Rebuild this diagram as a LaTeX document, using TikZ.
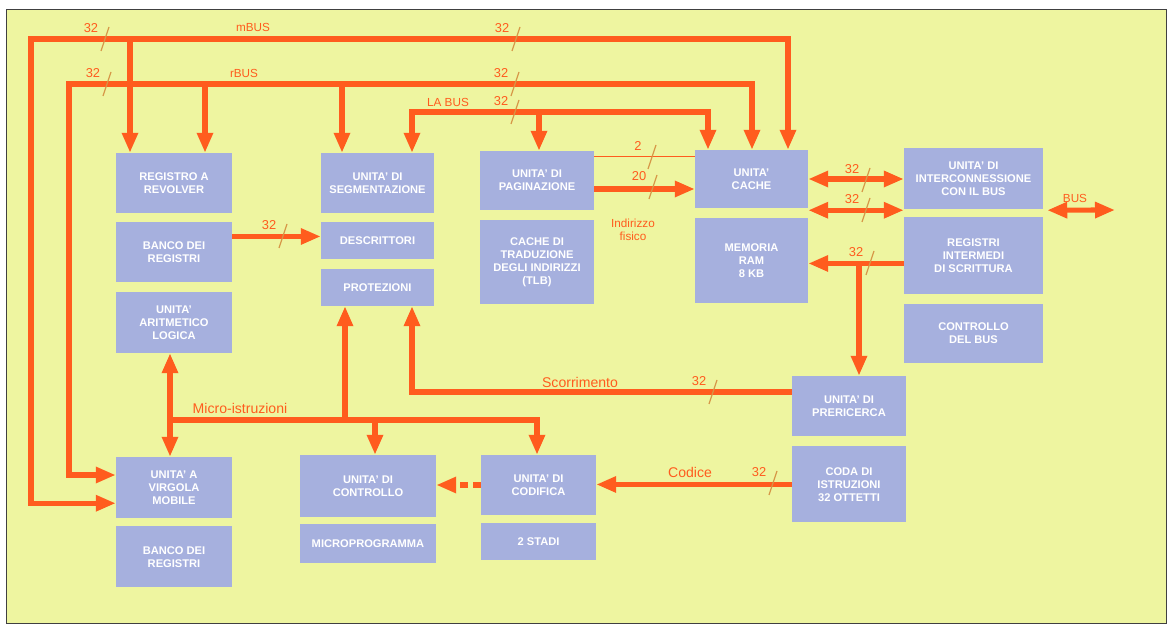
\documentclass[tikz,border=0pt]{standalone}
\usepackage{fontspec}
\setmainfont{Liberation Sans}
\setsansfont{Liberation Sans}
\usetikzlibrary{arrows.meta,positioning}
\definecolor{fondo}{RGB}{238,245,160}
\definecolor{blocco}{RGB}{166,176,222}
\definecolor{arancio}{RGB}{255,92,30}
\definecolor{tacca}{RGB}{214,150,70}

\begin{document}
\begin{tikzpicture}[x=0.03cm, y=-0.03cm, node distance=0.27cm, >={Triangle[length=0.6cm,width=0.46cm]}]
        \tikzstyle{blk}=[fill=blocco, text=white, align=center, inner sep=0pt, font=\fontsize{9.5}{11}\selectfont\bfseries];
        \tikzstyle{bus}=[draw=arancio, line width=4.4pt];
        \tikzstyle{wire}=[draw=arancio, line width=1.2pt];
        \tikzstyle{lab}=[text=arancio, inner sep=0pt, font=\fontsize{12}{13}\selectfont];
        \tikzstyle{toplab}=[text=arancio, inner sep=0pt, font=\fontsize{10}{11}\selectfont];
        \tikzstyle{num}=[text=arancio, inner sep=0pt, font=\fontsize{11}{11}\selectfont];
        \tikzstyle{tck}=[draw=tacca, line width=1pt];

        \useasboundingbox (0,0) rectangle (1169,625);
        \draw[fill=fondo, draw=black!75, line width=0.8pt] (6,9) rectangle (1166,623);

        % colonna registri
        \node[blk, minimum width=3.48cm, minimum height=1.8cm] (rev) at (174,183) {REGISTRO A\\REVOLVER};
        \node[blk, minimum width=3.48cm, minimum height=1.8cm, below=of rev] (banco1) {BANCO DEI\\REGISTRI};
        \node[blk, minimum width=3.48cm, minimum height=1.83cm, below=of banco1] (alu) {UNITA'\\ARITMETICO\\LOGICA};

        % segmentazione
        \node[blk, minimum width=3.39cm, minimum height=1.8cm] (seg) at (377.5,183) {UNITA' DI\\SEGMENTAZIONE};
        \node[blk, minimum width=3.39cm, minimum height=1.11cm, below=of seg] (descr) {DESCRITTORI};
        \node[blk, minimum width=3.39cm, minimum height=1.11cm, below=of descr] (prot) {PROTEZIONI};

        % paginazione
        \node[blk, minimum width=3.42cm, minimum height=1.77cm] (pag) at (537,180.5) {UNITA' DI\\PAGINAZIONE};
        \node[blk, minimum width=3.42cm, minimum height=2.52cm, below=0.3cm of pag] (tlb) {CACHE DI\\TRADUZIONE\\DEGLI INDIRIZZI\\(TLB)};

        % cache
        \node[blk, minimum width=3.39cm, minimum height=1.74cm] (cache) at (751.5,179) {UNITA'\\CACHE};
        \node[blk, minimum width=3.39cm, minimum height=2.55cm, below=0.3cm of cache] (ram) {MEMORIA\\RAM\\8 KB};

        % interfaccia bus
        \node[blk, minimum width=4.17cm, minimum height=1.83cm] (inter) at (973.5,178.5) {UNITA' DI\\INTERCONNESSIONE\\CON IL BUS};
        \node[blk, minimum width=4.17cm, minimum height=2.31cm, below=0.24cm of inter] (regint) {REGISTRI\\INTERMEDI\\DI SCRITTURA};
        \node[blk, minimum width=4.17cm, minimum height=1.77cm, below=of regint] (ctrlbus) {CONTROLLO\\DEL BUS};

        % prericerca
        \node[blk, minimum width=3.42cm, minimum height=1.8cm] (prer) at (849,406) {UNITA' DI\\PRERICERCA};
        \node[blk, minimum width=3.42cm, minimum height=2.28cm, below=0.3cm of prer] (coda) {CODA DI\\ISTRUZIONI\\32 OTTETTI};

        % parte bassa
        \node[blk, minimum width=3.48cm, minimum height=1.83cm] (vm) at (174,487.5) {UNITA' A\\VIRGOLA\\MOBILE};
        \node[blk, minimum width=3.48cm, minimum height=1.83cm, below=0.24cm of vm] (banco2) {BANCO DEI\\REGISTRI};
        \node[blk, minimum width=4.08cm, minimum height=1.86cm] (ctrl) at (368,486) {UNITA' DI\\CONTROLLO};
        \node[blk, minimum width=4.08cm, minimum height=1.17cm, below=0.21cm of ctrl] (mprog) {MICROPROGRAMMA};
        \node[blk, minimum width=3.45cm, minimum height=1.8cm] (cod) at (538.5,485) {UNITA' DI\\CODIFICA};
        \node[blk, minimum width=3.45cm, minimum height=1.11cm, below=0.24cm of cod] (stadi) {2 STADI};

        % punti dei bus
        \coordinate (mb) at (31,39);
        \coordinate (mb1) at (130,39);
        \coordinate (mbr) at (788,39);
        \coordinate (rb) at (69,84);
        \coordinate (rb1) at (205,84);
        \coordinate (rb2) at (342,84);
        \coordinate (rbr) at (752,84);
        \coordinate (la) at (412,112);
        \coordinate (la1) at (539,112);
        \coordinate (lar) at (708,112);
        \coordinate (pf) at (859,263);
        \coordinate (ext) at (1115,210);
        \coordinate (mi) at (170,420);
        \coordinate (mi3) at (345,420);
        \coordinate (mi4) at (375,420);
        \coordinate (mi2) at (537,420);

        % mBUS, rBUS, LA BUS
        \draw[bus,<->] ([yshift=0.45cm]vm.south west) -| (mb) -- (mbr) -- (mbr |- cache.north);
        \draw[bus,->] (mb1) -- (mb1 |- rev.north);
        \draw[bus,<->] ([yshift=0.375cm]vm.west) -| (rb) -- (rbr) -- (rbr |- cache.north);
        \draw[bus,->] (rb1) -- (rb1 |- rev.north);
        \draw[bus,->] (rb2) -- (rb2 |- seg.north);
        \draw[bus,<->] (la |- seg.north) -- (la) -- (lar) -- (lar |- cache.north);
        \draw[bus,->] (la1) -- (la1 |- pag.north);

        \draw[wire] ([yshift=-0.18cm]pag.north east) coordinate (p2) -- (p2 -| cache.west);
        \draw[bus,->] ([yshift=-0.255cm]pag.east) coordinate (p20) -- (p20 -| cache.west);
        \draw[bus,->] ([yshift=0.48cm]banco1.east) coordinate (b32) -- (b32 -| descr.west);

        \draw[bus,<->] (cache.east) -- (cache.east -| inter.west);
        \draw[bus,<->] ([yshift=-0.06cm]cache.south east) coordinate (c2) -- (c2 -| inter.west);
        \draw[bus,<->, shorten <=0.12cm] ([yshift=-0.03cm]inter.south east) -- (ext);

        \draw[bus,->] ([yshift=-0.225cm]regint.west) coordinate (r32) -- (r32 -| ram.east);
        \draw[bus,->] (pf) -- (pf |- prer.north);

        \draw[bus,->] ([yshift=0.42cm]prer.west) coordinate (sc) -- (sc -| la) -- (la |- prot.south);
        \draw[bus,->] (coda.west) -- (coda.west -| cod.east);
        \draw[bus,->, dash pattern=on 7pt off 4pt] (cod.west) -- (cod.west -| ctrl.east);

        % micro-istruzioni
        \draw[bus,->] (mi) -- (mi2) -- (mi2 |- cod.north);
        \draw[bus,<->] (mi |- alu.south) -- (mi |- vm.north);
        \draw[bus,->] (mi3) -- (mi3 |- prot.south);
        \draw[bus,->] (mi4) -- (mi4 |- ctrl.north);

        % larghezze dei bus
        \foreach \x/\y/\n [count=\i] in {105/39/32, 516/39/32, 107/84/32, 515/84/32, 515/112/32,
            652/157/2, 653/187/20, 283/236/32, 866/180/32, 866/210/32, 870/263/32, 713/392/32, 773/483/32} {
            \draw[tck] (\x-4,\y+12) -- (\x+4,\y-12);
            \node[num] (w\i) at (\x-14,\y-11) {\n};
        }

        \node[toplab] (mbus) at (253,27) {mBUS};
        \node[toplab] (rbus) at (244,73) {rBUS};
        \node[toplab] (labus) at (448,102) {LA BUS};
        \node[toplab, align=center] (fis) at (633,230) {Indirizzo\\fisico};
        \node[toplab] (ebus) at (1075,198) {BUS};
        \node[lab] (scor) at (580,382) {Scorrimento};
        \node[lab] (codice) at (690,472) {Codice};
        \node[lab] (mistr) at (240,408) {Micro-istruzioni};
    \end{tikzpicture}
\end{document}
